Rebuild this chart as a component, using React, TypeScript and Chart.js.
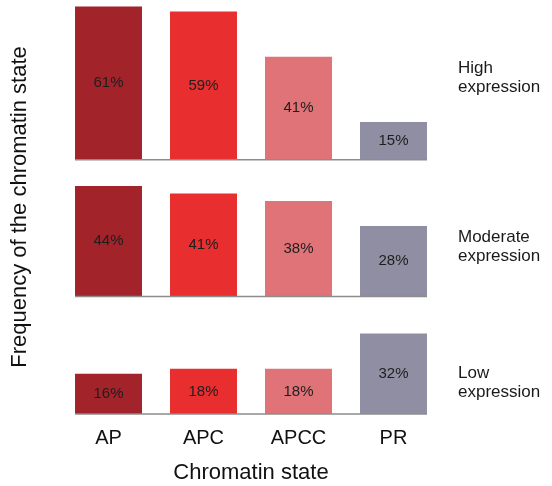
import React, { useEffect, useRef } from 'react';
import { Chart, registerables } from 'chart.js';

Chart.register(...registerables);

const categories = ['AP', 'APC', 'APCC', 'PR'];
const highValues = [61, 59, 41, 15];
const moderateValues = [44, 41, 38, 28];
const lowValues = [16, 18, 18, 32];
const panelNames = [
  ['High', 'expression'],
  ['Moderate', 'expression'],
  ['Low', 'expression'],
];
const barColors = ['#a3232a', '#e92e2f', '#e07377', '#908ea3'];
const xTitle = 'Chromatin state';
const yTitle = 'Frequency of the chromatin state';

const FONT = '"Liberation Sans", Arial, Helvetica, sans-serif';

const annotatePlugin = {
  id: 'annotate',
  afterDatasetsDraw(chart: any, _args: any, opts: any) {
    const ctx = chart.ctx;
    ctx.save();
    chart.data.datasets.forEach((ds: any, di: number) => {
      const meta = chart.getDatasetMeta(di);
      const els = meta.data;
      const first = els[0];
      const last = els[els.length - 1];
      ctx.strokeStyle = '#8c8c8c';
      ctx.lineWidth = 1.5;
      ctx.beginPath();
      ctx.moveTo(first.x - first.width / 2, first.base);
      ctx.lineTo(last.x + last.width / 2, last.base);
      ctx.stroke();

      ctx.fillStyle = '#1e1e1e';
      ctx.font = `15px ${FONT}`;
      ctx.textAlign = 'center';
      ctx.textBaseline = 'middle';
      els.forEach((el: any, i: number) => {
        ctx.fillText(`${ds.data[i]}%`, el.x, (el.y + el.base) / 2);
      });

      const scale = chart.scales[meta.yAxisID];
      const yc = scale.getPixelForValue(opts.levels[di]);
      ctx.textAlign = 'left';
      ctx.font = `17px ${FONT}`;
      ctx.fillStyle = '#1a1a1a';
      const lines = panelNames[di];
      lines.forEach((t, k) => {
        ctx.fillText(t, chart.chartArea.right + 17, yc + (k - (lines.length - 1) / 2) * 19);
      });
    });
    ctx.restore();
  },
};

export default function App() {
  const ref = useRef<HTMLCanvasElement>(null);

  useEffect(() => {
    if (!ref.current) return;
    const panelMax = [63.6, 54.4, 46.8];
    const hiddenAxis = (max: number) => ({
      type: 'linear' as const,
      position: 'left' as const,
      stack: 'panels',
      stackWeight: max,
      min: 0,
      max,
      grid: { display: false, drawTicks: false },
      border: { display: false },
      ticks: { display: false },
    });
    const chart = new Chart(ref.current, {
      type: 'bar',
      data: {
        labels: categories,
        datasets: [
          { label: 'High expression', data: highValues, yAxisID: 'y1', backgroundColor: barColors, grouped: false },
          { label: 'Moderate expression', data: moderateValues, yAxisID: 'y2', backgroundColor: barColors, grouped: false },
          { label: 'Low expression', data: lowValues, yAxisID: 'y3', backgroundColor: barColors, grouped: false },
        ] as any,
      },
      options: {
        animation: false,
        responsive: true,
        maintainAspectRatio: false,
        layout: { padding: { left: 3, right: 111, top: 0, bottom: 0 } },
        datasets: { bar: { barPercentage: 0.705, categoryPercentage: 1 } },
        plugins: {
          legend: { display: false },
          tooltip: { enabled: false },
          annotate: { levels: [32.6, 19.8, 12.4] },
        } as any,
        scales: {
          x: {
            grid: { display: false, drawTicks: false },
            border: { display: false },
            ticks: { color: '#111', padding: 12, font: { family: FONT, size: 20 } },
            title: {
              display: true,
              text: xTitle,
              color: '#111',
              font: { family: FONT, size: 22, lineHeight: 1.0 },
              padding: { top: 0, bottom: 2 },
            },
          },
          y3: hiddenAxis(panelMax[2]),
          y2: hiddenAxis(panelMax[1]),
          y1: hiddenAxis(panelMax[0]),
          yTitle: {
            type: 'linear',
            position: 'left',
            min: 0,
            max: 1,
            grid: { display: false, drawTicks: false },
            border: { display: false },
            ticks: { display: false },
            title: {
              display: true,
              text: yTitle,
              color: '#111',
              font: { family: FONT, size: 22 },
              padding: { top: 4, bottom: 27.6 },
            },
          },
        } as any,
      },
      plugins: [annotatePlugin],
    });
    return () => chart.destroy();
  }, []);

  return (
    <div style={{ position: 'absolute', left: 0, top: 0, width: 552, height: 486, background: '#fff' }}>
      <canvas ref={ref} />
    </div>
  );
}
